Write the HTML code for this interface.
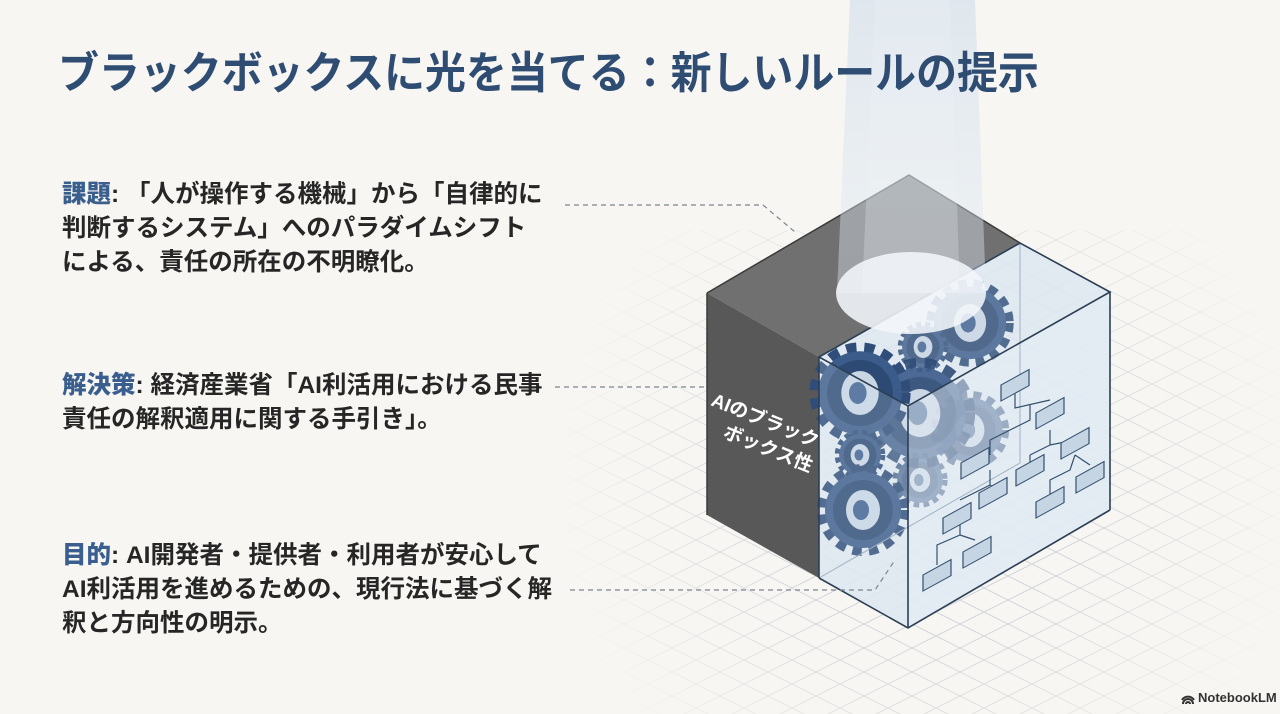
<!DOCTYPE html>
<html><head><meta charset="utf-8">
<style>
html,body{margin:0;padding:0;}
body{width:1280px;height:714px;background:#f7f6f2;position:relative;overflow:hidden;font-family:"Liberation Sans","Noto Sans CJK JP",sans-serif;}
svg{position:absolute;left:0;top:0;}
.title{position:absolute;left:58px;top:46px;font-size:44px;font-weight:bold;color:#2f4c72;white-space:nowrap;line-height:56px;transform:scaleX(0.93);transform-origin:0 0;}
.blk{position:absolute;left:62px;font-size:24.5px;line-height:34px;color:#262626;white-space:nowrap;font-weight:bold;}
.blk b{color:#3a5f8f;}
.logo{position:absolute;left:1198px;top:690px;font-size:13px;font-weight:bold;color:#333;}
</style></head><body>
<svg width="1280" height="714" viewBox="0 0 1280 714">
<defs>
<pattern id="grid" width="48" height="24" patternUnits="userSpaceOnUse">
<path d="M0 0 L48 24 M0 24 L48 0" stroke="#cfd3d8" stroke-width="1" fill="none"/>
</pattern>
<radialGradient id="fade" cx="930" cy="480" r="380" gradientUnits="userSpaceOnUse">
<stop offset="0.4" stop-color="#fff" stop-opacity="1"/>
<stop offset="1" stop-color="#fff" stop-opacity="0"/>
</radialGradient>
<mask id="m"><rect width="1280" height="714" fill="url(#fade)"/></mask>
<linearGradient id="beam" x1="0" y1="0" x2="0" y2="1">
<stop offset="0" stop-color="#c9d9ea" stop-opacity="0.8"/>
<stop offset="1" stop-color="#e3ecf5" stop-opacity="0.6"/>
</linearGradient>
<g id="gear">
<circle r="40" fill="none" stroke="#2f4d78" stroke-width="12" stroke-dasharray="9 7"/>
<circle r="38" fill="#3b5c8a"/>
<circle r="30" fill="#2c4a74"/>
<ellipse rx="17" ry="20" fill="#c9d6e4"/>
<ellipse rx="8" ry="10" cx="-2" fill="#3d5f8f"/>
</g>
</defs>
<rect x="520" y="230" width="760" height="484" fill="url(#grid)" mask="url(#m)"/>
<polygon points="707,293 909,175 1020,243 819,357" fill="#707070"/>
<polygon points="707,293 819,357 819,578 707,515" fill="#585858"/>
<polyline points="707,293 909,175 1020,243" fill="none" stroke="#3a3a3a" stroke-width="1.5"/>
<line x1="707" y1="293" x2="707" y2="515" stroke="#3a3a3a" stroke-width="1.5"/>
<text x="0" y="0" transform="translate(710,405) rotate(22)" font-size="19" fill="#fff" font-weight="bold" font-family="Liberation Sans, Noto Sans CJK JP, sans-serif">AIのブラック</text>
<text x="0" y="0" transform="translate(722,437) rotate(22)" font-size="19" fill="#fff" font-weight="bold" font-family="Liberation Sans, Noto Sans CJK JP, sans-serif">ボックス性</text>
<polygon points="819,357 1020,243 1110,292 1110,510 908,628 819,578" fill="#dde7f1" opacity="0.85"/>
<g opacity="0.8">
<use href="#gear" transform="translate(970,323) scale(0.95)"/>
<use href="#gear" transform="translate(923,347) scale(0.55)"/>
<use href="#gear" transform="translate(970,430) scale(0.85)"/>
<use href="#gear" transform="translate(920,480) scale(0.6)"/>
</g>
<use href="#gear" transform="translate(920,413) scale(1.2)" opacity="0.9"/>
<use href="#gear" transform="translate(860,393) scale(1.1)"/>
<use href="#gear" transform="translate(860,455) scale(0.55)"/>
<use href="#gear" transform="translate(863,510) scale(1.0)"/>
<polygon points="908,406 1110,292 1110,510 908,628" fill="#e6eef6" opacity="0.5"/>
<polygon points="819,357 908,406 908,628 819,578" fill="#e3ecf5" opacity="0.2"/>
<line x1="1020" y1="243" x2="1020" y2="463" stroke="#9fb1c4" stroke-width="1"/>
<line x1="819" y1="578" x2="1020" y2="463" stroke="#9fb1c4" stroke-width="1"/>
<g fill="#c6d5e4" stroke="#34506f" stroke-width="1.2">
<g stroke="#34506f" fill="none"><path d="M1015 392 L1015 408 L1050 400 M1030 404 L1030 420 L990 440 M990 440 L990 455 M1050 430 L1050 445 L1075 440 M1050 445 L1030 455 M1030 455 L1030 465 M990 470 L990 485 L960 500 M990 485 L1000 492 M960 520 L960 535 L937 545 L937 565 M960 535 L975 540 M1075 455 L1090 465 M1075 455 L1070 470 L1050 480 L1050 495"/></g>
<rect width="28" height="16" transform="matrix(1,-0.55,0,1,1001,385)"/>
<rect width="28" height="16" transform="matrix(1,-0.55,0,1,1036,413)"/>
<rect width="28" height="16" transform="matrix(1,-0.55,0,1,1061,443)"/>
<rect width="28" height="16" transform="matrix(1,-0.55,0,1,961,463)"/>
<rect width="28" height="16" transform="matrix(1,-0.55,0,1,1016,470)"/>
<rect width="28" height="16" transform="matrix(1,-0.55,0,1,1076,477)"/>
<rect width="28" height="16" transform="matrix(1,-0.55,0,1,979,493)"/>
<rect width="28" height="16" transform="matrix(1,-0.55,0,1,943,518)"/>
<rect width="28" height="16" transform="matrix(1,-0.55,0,1,1036,502)"/>
<rect width="28" height="16" transform="matrix(1,-0.55,0,1,963,552)"/>
<rect width="28" height="16" transform="matrix(1,-0.55,0,1,923,575)"/>
</g>
<g fill="none" stroke="#2c3f55" stroke-width="1.6">
<polygon points="819,357 1020,243 1110,292 908,406"/>
<line x1="819" y1="357" x2="819" y2="578"/>
<line x1="908" y1="406" x2="908" y2="628"/>
<line x1="1110" y1="292" x2="1110" y2="510"/>
<polyline points="819,578 908,628 1110,510"/>
</g>
<polygon points="850,0 975,0 986,293 837,293" fill="url(#beam)" opacity="0.65"/>
<polygon points="875,0 950,0 960,293 862,293" fill="#eef3f9" opacity="0.25"/>
<ellipse cx="911" cy="293" rx="75" ry="41" fill="#f3f6fa" opacity="0.88"/>
<g fill="none" stroke="#7d8590" stroke-width="1.2" stroke-dasharray="5 4">
<polyline points="565,205 763,205 795,232"/>
<line x1="555" y1="387" x2="705" y2="387"/>
<polyline points="570,590 875,590 895,560"/>
</g>
<g fill="none" stroke="#333" stroke-width="2">
<path d="M1183 704 a5 5 0 0 1 10 0 M1186 704 a2 2 0 0 1 4 0 M1182 700 a7 7 0 0 1 12 0"/>
</g>
</svg>
<div class="title">ブラックボックスに光を当てる：新しいルールの提示</div>
<div class="blk" style="top:178px"><b>課題</b>: 「人が操作する機械」から「自律的に<br>判断するシステム」へのパラダイムシフト<br>による、責任の所在の不明瞭化。</div>
<div class="blk" style="top:369px"><b>解決策</b>: 経済産業省「AI利活用における民事<br>責任の解釈適用に関する手引き」。</div>
<div class="blk" style="top:539px"><b>目的</b>: AI開発者・提供者・利用者が安心して<br>AI利活用を進めるための、現行法に基づく解<br>釈と方向性の明示。</div>
<div class="logo">NotebookLM</div>
</body></html>
